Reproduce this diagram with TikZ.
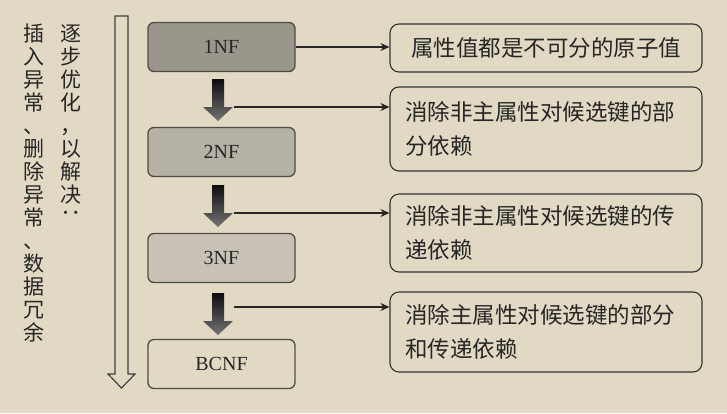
\documentclass[tikz,border=0pt]{standalone}
\usepackage{fontspec}
\setmainfont{Liberation Serif}
\newfontfamily\cjk{Noto Sans CJK SC}
\usetikzlibrary{arrows.meta}

\definecolor{paper}{RGB}{225,217,196}
\definecolor{nfdark}{RGB}{155,150,139}
\definecolor{nfmid}{RGB}{182,177,165}
\definecolor{nflight}{RGB}{199,194,181}
\definecolor{rim}{RGB}{78,76,71}

\begin{document}
\begin{tikzpicture}[x=1pt,y=-1pt]
        \useasboundingbox (0,0) rectangle (727,413);
        \fill[paper] (0,0) rectangle (727,413);

        \begin{scope}[every node/.style={text=black!85},
                nfbox/.style={draw=rim,line width=1.3pt,rounded corners=6pt,
                    minimum width=147pt,minimum height=49pt,
                    font=\fontsize{20}{22}\selectfont},
                notebox/.style={draw=black!80,line width=1.1pt,rounded corners=9pt,
                    text width=282pt,inner xsep=15pt,inner ysep=0pt,align=left,
                    font=\cjk\fontsize{22.5}{34}\selectfont},
                vcol/.style={anchor=north,text width=22pt,inner sep=0pt,align=center,
                    font=\cjk\fontsize{21}{23}\selectfont}]
            \node[vcol] (anomaly) at (34,24) {插\\入\\异\\常\\、\\删\\除\\异\\常\\、\\数\\据\\冗\\余};
            \node[vcol] (refine)  at (71,24) {逐\\步\\优\\化\\，\\以\\解\\决\\\rotatebox[origin=c]{-90}{：}};

            \node[nfbox,fill=nfdark]  (1nf)  at (221.5,47)  {1NF};
            \node[nfbox,fill=nfmid]   (2nf)  at (221.5,152) {2NF};
            \node[nfbox,fill=nflight] (3nf)  at (221.5,258) {3NF};
            \node[nfbox]              (bcnf) at (221.5,364) {BCNF};

            \node[notebox,align=center,minimum height=48pt] (atomic) at (546,48)  {属性值都是不可分的原子值};
            \node[notebox,minimum height=84pt] (partial) at (546,129) {消除非主属性对候选键的部\\分依赖};
            \node[notebox,minimum height=78pt] (trans)   at (546,233) {消除非主属性对候选键的传\\递依赖};
            \node[notebox,minimum height=80pt] (prime)   at (546,332) {消除主属性对候选键的部分\\和传递依赖};
        \end{scope}

        % hollow arrow at the left
        \draw[black!75,line width=1.2pt,line join=miter]
            (115,16) -- (128,16) -- (128,374) -- (135,374) -- (121.5,388)
            -- (108,374) -- (115,374) -- cycle;

        % thick arrows between the normal forms
        \foreach \y/\c/\n in {79/107/1,185/213/2,293/307/3} {
            \shade[top color=black!95,bottom color=black!55]
                (212,\y) -- (224,\y) -- (224,\y+28) -- (233,\y+28) -- (218,\y+42)
                -- (203,\y+28) -- (212,\y+28) -- cycle;
            \coordinate (c\n) at (234,\c);
        }

        \begin{scope}[>={Stealth[length=9pt,width=8pt]},line width=1.1pt,black!85]
            \draw[->] (1nf.east) -- (1nf.east -| atomic.west);
            \draw[->] (c1) -- (c1 -| partial.west);
            \draw[->] (c2) -- (c2 -| trans.west);
            \draw[->] (c3) -- (c3 -| prime.west);
        \end{scope}
    \end{tikzpicture}
\end{document}
